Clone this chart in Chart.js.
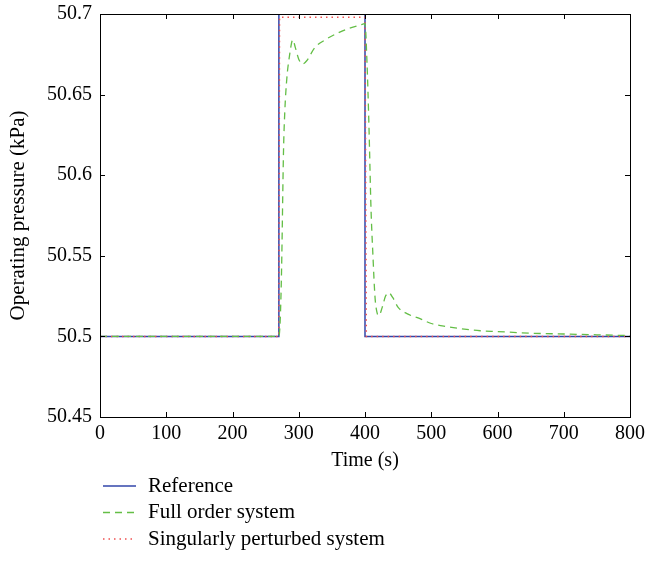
<!DOCTYPE html>
<html lang="en">
<head>
    <meta charset="UTF-8">
    <title>Operating pressure</title>
    <script src="https://cdn.jsdelivr.net/npm/chart.js"></script>
    <style>
        html, body { margin: 0; padding: 0; background: #fff; }
        .chart-container { width: 645px; height: 582px; position: relative; }
    </style>
</head>
<body>
    <div class="chart-container"><canvas id="chart"></canvas></div>
    <script>
        // tick labels
        const xTicks = [0, 100, 200, 300, 400, 500, 600, 700, 800];
        const yTicks = [50.45, 50.5, 50.55, 50.6, 50.65, 50.7];

        // reference (step)
        const refTime = [0, 270, 270, 400, 400, 800];
        const refPressure = [50.5, 50.5, 50.7, 50.7, 50.5, 50.5];

        // full order system
        const fullTime = [0, 270, 272, 274, 277, 279, 282, 286, 291, 295, 300, 306, 312, 324, 340, 358, 375, 392, 400,
            403, 406, 409, 412, 415, 418, 421, 426, 431, 436, 442, 450, 464, 483, 500, 524, 550, 574, 600, 650, 700, 750, 800];
        const fullPressure = [50.5, 50.5, 50.51, 50.54, 50.615, 50.64, 50.66, 50.674, 50.684, 50.679, 50.672, 50.669, 50.671, 50.679, 50.684, 50.688, 50.691, 50.693, 50.694,
            50.67, 50.63, 50.58, 50.55, 50.525, 50.515, 50.513, 50.518, 50.525, 50.527, 50.524, 50.518, 50.514, 50.511, 50.508, 50.506, 50.5045, 50.5035, 50.503, 50.502, 50.5015, 50.501, 50.5005];

        // singularly perturbed system
        const spTime = [0, 270, 271, 400, 402, 800];
        const spPressure = [50.5, 50.5, 50.698, 50.698, 50.5, 50.5];

        const pts = (xs, ys) => xs.map((x, i) => ({ x: x, y: ys[i] }));

        const legendItems = [
            { label: 'Reference', color: 'rgb(50,70,170)', dash: [] },
            { label: 'Full order system', color: 'rgb(100,190,70)', dash: [7, 5] },
            { label: 'Singularly perturbed system', color: 'rgb(240,80,80)', dash: [1.5, 4] }
        ];

        const FONT = '"Liberation Serif", "DejaVu Serif", serif';

        // box, inward ticks and legend
        const boxPlugin = {
            id: 'box',
            afterDraw(chart) {
                const ctx = chart.ctx;
                const a = chart.chartArea;
                const xs = chart.scales.x, ys = chart.scales.y;
                ctx.save();
                ctx.strokeStyle = '#000';
                ctx.lineWidth = 1;
                ctx.setLineDash([]);
                ctx.strokeRect(Math.round(a.left) + 0.5, Math.round(a.top) + 0.5,
                    Math.round(a.right - a.left), Math.round(a.bottom - a.top));
                const t = 5;
                ctx.beginPath();
                xTicks.forEach(v => {
                    const p = Math.round(xs.getPixelForValue(v)) + 0.5;
                    ctx.moveTo(p, a.bottom); ctx.lineTo(p, a.bottom - t);
                    ctx.moveTo(p, a.top); ctx.lineTo(p, a.top + t);
                });
                yTicks.forEach(v => {
                    const p = Math.round(ys.getPixelForValue(v)) + 0.5;
                    ctx.moveTo(a.left, p); ctx.lineTo(a.left + t, p);
                    ctx.moveTo(a.right, p); ctx.lineTo(a.right - t, p);
                });
                ctx.stroke();

                // legend
                ctx.font = '21px ' + FONT;
                ctx.fillStyle = '#000';
                ctx.textBaseline = 'middle';
                legendItems.forEach((it, i) => {
                    const y = 486 + i * 26.5;
                    ctx.beginPath();
                    ctx.strokeStyle = it.color;
                    ctx.lineWidth = 1.3;
                    ctx.setLineDash(it.dash);
                    ctx.moveTo(103, y); ctx.lineTo(136, y);
                    ctx.stroke();
                    ctx.fillText(it.label, 148, y);
                });
                ctx.restore();
            }
        };

        const ctx = document.getElementById('chart').getContext('2d');
        new Chart(ctx, {
            type: 'line',
            data: {
                datasets: [
                    {
                        label: 'Full order system',
                        data: pts(fullTime, fullPressure),
                        borderColor: 'rgb(100,190,70)',
                        borderWidth: 1.3,
                        borderDash: [7, 5],
                        pointRadius: 0,
                        cubicInterpolationMode: 'monotone'
                    },
                    {
                        label: 'Singularly perturbed system',
                        data: pts(spTime, spPressure),
                        borderColor: 'rgb(240,80,80)',
                        borderWidth: 1.5,
                        borderDash: [1.5, 4],
                        pointRadius: 0
                    },
                    {
                        label: 'Reference',
                        data: pts(refTime, refPressure),
                        borderColor: 'rgb(50,70,170)',
                        borderWidth: 1.5,
                        pointRadius: 0
                    }
                ]
            },
            options: {
                responsive: true,
                maintainAspectRatio: false,
                animation: false,
                layout: { padding: { left: 0, top: 14, right: 15, bottom: 105 } },
                plugins: {
                    legend: { display: false },
                    tooltip: { enabled: false }
                },
                scales: {
                    x: {
                        type: 'linear',
                        min: 0,
                        max: 800,
                        afterBuildTicks: s => { s.ticks = xTicks.map(v => ({ value: v })); },
                        afterFit: s => { s.height = 60; s.paddingLeft = 0; s.paddingRight = 0; },
                        grid: { display: false, drawTicks: false },
                        border: { display: false },
                        ticks: { color: '#000', font: { family: FONT, size: 20 }, padding: 5, maxRotation: 0 },
                        title: { display: true, text: 'Time (s)', color: '#000', font: { family: FONT, size: 20 }, padding: { top: 4 } }
                    },
                    y: {
                        min: 50.45,
                        max: 50.7,
                        afterBuildTicks: s => { s.ticks = yTicks.map(v => ({ value: v })); },
                        afterFit: s => { s.width = 100; s.paddingTop = 0; s.paddingBottom = 0; },
                        grid: { display: false, drawTicks: false },
                        border: { display: false },
                        ticks: {
                            color: '#000', font: { family: FONT, size: 20 }, padding: 8,
                            callback: v => v.toFixed(2).replace(/0$/, '')
                        },
                        title: { display: true, text: 'Operating pressure (kPa)', color: '#000', font: { family: FONT, size: 21 }, padding: { top: 6, bottom: 0 } }
                    }
                }
            },
            plugins: [boxPlugin]
        });
    </script>
</body>
</html>
